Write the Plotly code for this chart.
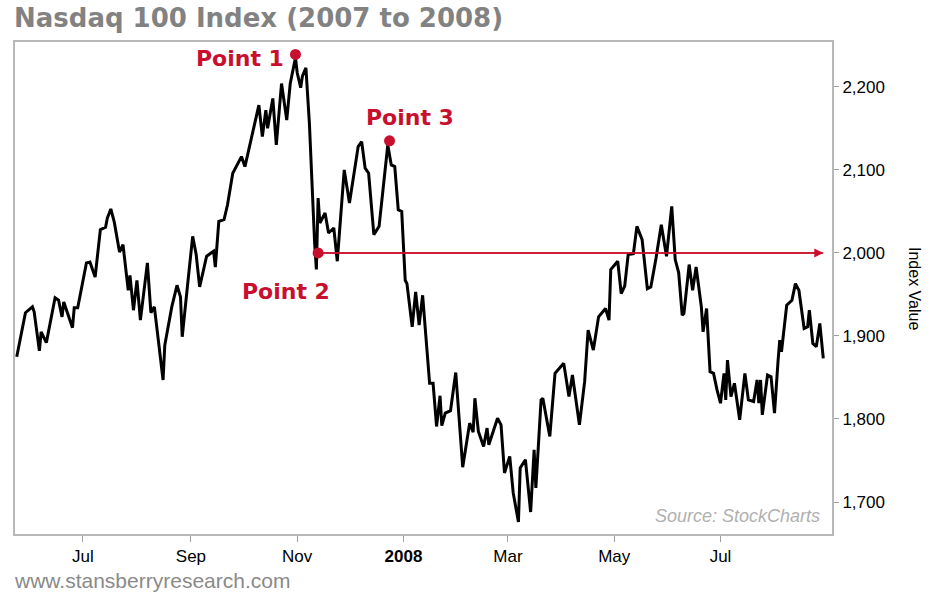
import plotly.graph_objects as go

# Nasdaq 100 daily-ish closes
dates = [
    "2007-05-24", "2007-05-29", "2007-06-02", "2007-06-03", "2007-06-06", "2007-06-07", "2007-06-10",
    "2007-06-15", "2007-06-17", "2007-06-19", "2007-06-20", "2007-06-25", "2007-06-26", "2007-06-28",
    "2007-07-03", "2007-07-05", "2007-07-08", "2007-07-11", "2007-07-14", "2007-07-15", "2007-07-17",
    "2007-07-19", "2007-07-22", "2007-07-24", "2007-07-27", "2007-07-28", "2007-07-30", "2007-08-01",
    "2007-08-03", "2007-08-07", "2007-08-09", "2007-08-11", "2007-08-16", "2007-08-17", "2007-08-21",
    "2007-08-24", "2007-08-26", "2007-08-27", "2007-08-30", "2007-09-02", "2007-09-04", "2007-09-06",
    "2007-09-10", "2007-09-14", "2007-09-15", "2007-09-17", "2007-09-20", "2007-09-22", "2007-09-25",
    "2007-09-30", "2007-10-02", "2007-10-10", "2007-10-12", "2007-10-14", "2007-10-15", "2007-10-18",
    "2007-10-20", "2007-10-23", "2007-10-26", "2007-10-28", "2007-10-31", "2007-11-01", "2007-11-03",
    "2007-11-04", "2007-11-06", "2007-11-08", "2007-11-11", "2007-11-12", "2007-11-13", "2007-11-14",
    "2007-11-17", "2007-11-19", "2007-11-22", "2007-11-24", "2007-11-28", "2007-12-01", "2007-12-06",
    "2007-12-08", "2007-12-10", "2007-12-12", "2007-12-15", "2007-12-18", "2007-12-23", "2007-12-25",
    "2007-12-27", "2007-12-29", "2007-12-31", "2008-01-02", "2008-01-03", "2008-01-06", "2008-01-08",
    "2008-01-10", "2008-01-12", "2008-01-16", "2008-01-18", "2008-01-20", "2008-01-22", "2008-01-23",
    "2008-01-25", "2008-01-28", "2008-01-31", "2008-02-04", "2008-02-08", "2008-02-10", "2008-02-11",
    "2008-02-13", "2008-02-16", "2008-02-18", "2008-02-19", "2008-02-24", "2008-02-26", "2008-02-28",
    "2008-03-02", "2008-03-04", "2008-03-07", "2008-03-08", "2008-03-11", "2008-03-14", "2008-03-16",
    "2008-03-17", "2008-03-20", "2008-03-21", "2008-03-25", "2008-03-28", "2008-04-02", "2008-04-05",
    "2008-04-07", "2008-04-11", "2008-04-14", "2008-04-16", "2008-04-19", "2008-04-22", "2008-04-26",
    "2008-04-28", "2008-04-29", "2008-05-03", "2008-05-05", "2008-05-07", "2008-05-09", "2008-05-12",
    "2008-05-14", "2008-05-17", "2008-05-20", "2008-05-22", "2008-05-25", "2008-05-28", "2008-05-31",
    "2008-06-03", "2008-06-05", "2008-06-07", "2008-06-09", "2008-06-10", "2008-06-13", "2008-06-15",
    "2008-06-17", "2008-06-20", "2008-06-21", "2008-06-23", "2008-06-25", "2008-06-27", "2008-06-29",
    "2008-07-01", "2008-07-03", "2008-07-04", "2008-07-05", "2008-07-07", "2008-07-09", "2008-07-12",
    "2008-07-15", "2008-07-17", "2008-07-20", "2008-07-22", "2008-07-23", "2008-07-24", "2008-07-25",
    "2008-07-28", "2008-07-30", "2008-08-01", "2008-08-03", "2008-08-04", "2008-08-05", "2008-08-08",
    "2008-08-11", "2008-08-13", "2008-08-15", "2008-08-18", "2008-08-20", "2008-08-21", "2008-08-23",
    "2008-08-25", "2008-08-27", "2008-08-29",
]
values = [
    1875, 1928, 1935, 1929, 1882, 1905, 1892,
    1946, 1943, 1923, 1941, 1910, 1934, 1934,
    1988, 1989, 1971, 2028, 2031, 2042, 2053,
    2037, 2001, 2010, 1955, 1973, 1931, 1967,
    1919, 1988, 1928, 1935, 1847, 1889, 1935,
    1961, 1947, 1899, 1960, 2020, 1998, 1959,
    1996, 2002, 1983, 2038, 2040, 2058, 2096,
    2116, 2104, 2178, 2140, 2172, 2150, 2186,
    2130, 2204, 2160, 2204, 2235, 2217, 2199,
    2213, 2223, 2156, 2012, 1980, 2066, 2036,
    2048, 2024, 2030, 1990, 2100, 2060, 2128,
    2134, 2102, 2096, 2022, 2032, 2130, 2106,
    2104, 2052, 2050, 1967, 1963, 1911, 1953,
    1913, 1949, 1843, 1843, 1791, 1828, 1792,
    1807, 1810, 1856, 1742, 1795, 1784, 1825,
    1785, 1767, 1789, 1769, 1801, 1793, 1735,
    1755, 1711, 1676, 1741, 1751, 1688, 1763,
    1717, 1823, 1825, 1779, 1855, 1867, 1827,
    1853, 1793, 1845, 1907, 1883, 1923, 1933,
    1919, 1980, 1990, 1951, 1960, 1998, 1999,
    2032, 2016, 1957, 1959, 1994, 2034, 1996,
    2056, 1992, 1976, 1925, 1927, 1986, 1955,
    1983, 1935, 1905, 1933, 1857, 1855, 1835,
    1819, 1855, 1823, 1871, 1827, 1843, 1799,
    1855, 1823, 1821, 1847, 1819, 1847, 1805,
    1853, 1851, 1807, 1869, 1895, 1881, 1937,
    1943, 1963, 1955, 1909, 1911, 1931, 1891,
    1887, 1915, 1873,
]

point_labels = ["Point 1", "Point 2", "Point 3"]
point_dates = ["2007-10-31", "2007-11-13", "2007-12-24"]
point_values = [2239, 2000, 2135]
arrow_end_date = "2008-08-29"
level_value = 2000

x_tick_vals = ["2007-07-01", "2007-09-01", "2007-11-01", "2008-01-01", "2008-03-01", "2008-05-01", "2008-07-01"]
x_tick_text = ["Jul", "Sep", "Nov", "<b>2008</b>", "Mar", "May", "Jul"]
y_tick_vals = [1700, 1800, 1900, 2000, 2100, 2200]

RED = "#c8102e"

fig = go.Figure()

fig.add_trace(go.Scatter(
    x=dates, y=values, mode="lines",
    line=dict(color="black", width=3),
    hoverinfo="skip", showlegend=False,
))

# horizontal level line from Point 2
fig.add_trace(go.Scatter(
    x=[point_dates[1], arrow_end_date], y=[level_value, level_value], mode="lines",
    line=dict(color=RED, width=1.5), showlegend=False, hoverinfo="skip",
))
fig.add_annotation(
    x=arrow_end_date, y=level_value, ax=point_dates[1], ay=level_value,
    xref="x", yref="y", axref="x", ayref="y",
    showarrow=True, arrowhead=2, arrowsize=1.2, arrowwidth=1.5, arrowcolor=RED, text="",
)

fig.add_trace(go.Scatter(
    x=point_dates, y=point_values, mode="markers",
    marker=dict(color=RED, size=11), showlegend=False, hoverinfo="skip",
))

label_font = dict(family="DejaVu Sans", size=22, color=RED)
fig.add_annotation(x=point_dates[0], y=point_values[0], text="<b>" + point_labels[0] + "</b>",
                   showarrow=False, xanchor="right", yanchor="middle", xshift=-9, yshift=-4,
                   font=label_font)
fig.add_annotation(x=point_dates[1], y=point_values[1], text="<b>" + point_labels[1] + "</b>",
                   showarrow=False, xanchor="center", yanchor="top", xshift=-32, yshift=-24,
                   font=label_font)
fig.add_annotation(x=point_dates[2], y=point_values[2], text="<b>" + point_labels[2] + "</b>",
                   showarrow=False, xanchor="center", yanchor="bottom", xshift=20, yshift=9,
                   font=label_font)

fig.add_annotation(x=0, y=1, xref="paper", yref="paper", xshift=-3, yshift=7,
                   text="<b>Nasdaq 100 Index (2007 to 2008)</b>", showarrow=False,
                   xanchor="left", yanchor="bottom",
                   font=dict(family="DejaVu Sans", size=26, color="#828282"))
fig.add_annotation(x=0, y=-0.0935, xref="paper", yref="paper", xshift=-3,
                   text="www.stansberryresearch.com", showarrow=False,
                   xanchor="left", yanchor="middle",
                   font=dict(family="Liberation Sans, Arial", size=21, color="#8a8a8a"))
fig.add_annotation(x=1, y=0, xref="paper", yref="paper", xshift=-10, yshift=6,
                   text="<i>Source: StockCharts</i>", showarrow=False,
                   xanchor="right", yanchor="bottom",
                   font=dict(family="Liberation Sans, Arial", size=18, color="#b0b0b0"))
fig.add_annotation(x=1, y=0.5, xref="paper", yref="paper", xshift=83,
                   text="Index Value", textangle=90, showarrow=False,
                   xanchor="center", yanchor="middle",
                   font=dict(family="Liberation Sans, Arial", size=16, color="black"))

fig.update_layout(
    width=936, height=598,
    margin=dict(l=15, r=104, t=42, b=64),
    paper_bgcolor="white", plot_bgcolor="white",
    xaxis=dict(
        range=["2007-05-23", "2008-09-03"],
        tickvals=x_tick_vals, ticktext=x_tick_text,
        ticks="outside", ticklen=6, tickcolor="#a0a0a0", tickwidth=1,
        showgrid=False, zeroline=False,
        showline=True, linecolor="#b8b8b8", linewidth=2, mirror=True,
        tickfont=dict(family="Liberation Sans, Arial", size=17, color="black"),
    ),
    yaxis=dict(
        side="right", range=[1661.5, 2254],
        tickvals=y_tick_vals, tickformat=",",
        ticks="outside", ticklen=5, tickcolor="#a0a0a0", tickwidth=1,
        showgrid=False, zeroline=False,
        showline=True, linecolor="#b8b8b8", linewidth=2, mirror=True,
        tickfont=dict(family="Liberation Sans, Arial", size=17, color="black"),
    ),
    showlegend=False,
)

fig.write_html("out.html")
